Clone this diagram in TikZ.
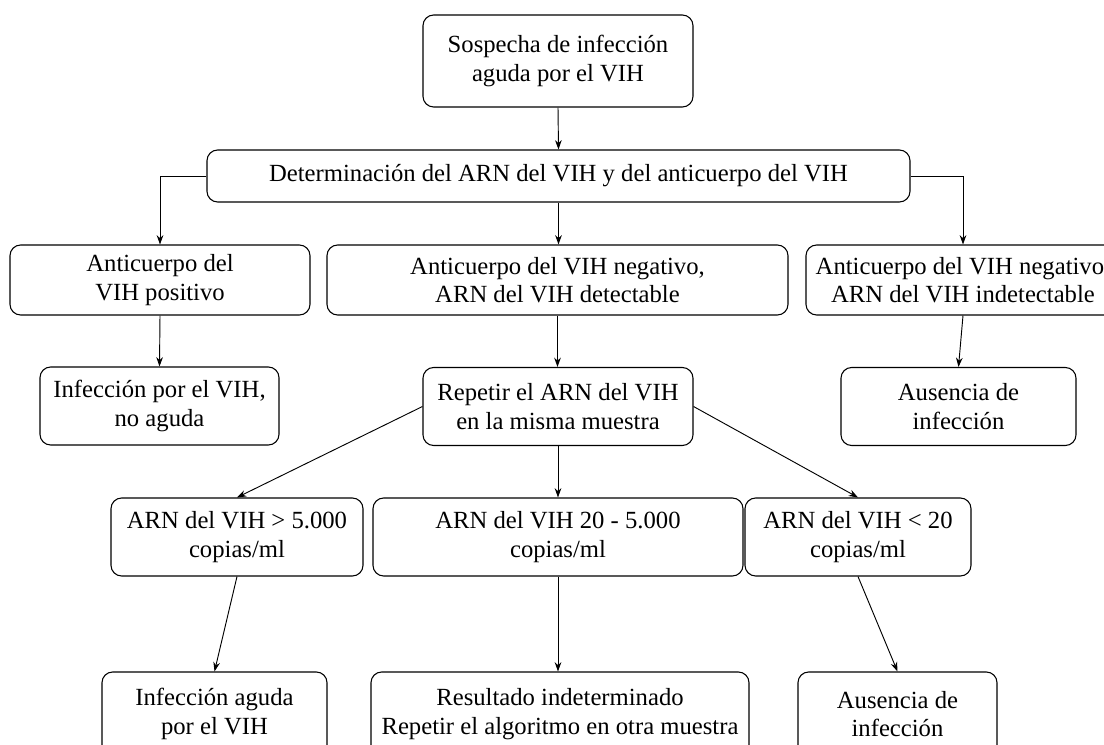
\documentclass[tikz,border=0pt]{standalone}
\usepackage{fontspec}
\setmainfont{Liberation Serif}
\usetikzlibrary{arrows.meta}
\begin{document}
\begin{tikzpicture}[x=0.75pt,y=-0.75pt,
  box/.style={draw, line width=0.8pt, rounded corners=8pt, align=center,
    inner sep=0pt, font=\fontsize{18.5pt}{21.5pt}\selectfont},
  sz/.style 2 args={minimum width=#1*0.75pt, minimum height=#2*0.75pt},
  arr/.style={-{Stealth[length=7pt,width=5pt]}, line width=0.7pt}]
\useasboundingbox (0,0) rectangle (1104,745);
\node[box, sz={270}{92}] (s0) at (558,61) {Sospecha de infección\\aguda por el VIH};
\node[box, sz={703}{52}] (d) at (558.5,176) {Determinación del ARN del VIH y del anticuerpo del VIH};
\node[box, sz={300}{70}] (a1) at (160,280) {Anticuerpo del\\VIH positivo};
\node[box, sz={461}{70}] (a2) at (557.5,280) {Anticuerpo del VIH negativo,\\ARN del VIH detectable};
\node[box, sz={314}{70}] (a3) at (963,280) {Anticuerpo del VIH negativo,\\ARN del VIH indetectable};
\node[box, sz={239}{78}] (b1) at (159.5,406) {Infección por el VIH,\\no aguda};
\node[box, sz={270}{78}] (b2) at (558,406.5) {Repetir el ARN del VIH\\en la misma muestra};
\node[box, sz={235}{78}] (b3) at (958.5,406.5) {Ausencia de\\infección};
\node[box, sz={252}{78}] (c1) at (237,537) {ARN del VIH > 5.000\\copias/ml};
\node[box, sz={370}{78}] (c2) at (558,537) {ARN del VIH 20 - 5.000\\copias/ml};
\node[box, sz={226}{78}] (c3) at (858,537) {ARN del VIH < 20\\copias/ml};
\node[box, sz={225}{84}] (e1) at (214.5,714) {Infección aguda\\por el VIH};
\node[box, sz={378}{84}] (e2) at (560,714) {Resultado indeterminado\\Repetir el algoritmo en otra muestra};
\node[box, sz={199}{84}] (e3) at (897.5,714) {Ausencia de\\infección};
\draw[arr] (s0.south) -- (d.north);
\draw[arr] (d.west) -| (a1.north);
\draw[arr] (d.east) -| (a3.north);
\draw[arr] (d.south) -- (d.south |- a2.north);
\draw[arr] (a1.south) -- (b1.north);
\draw[arr] (a2.south) -- (a2.south |- b2.north);
\draw[arr] (a3.south) -- (b3.north);
\draw[arr] (b2.west) -- (c1.north);
\draw[arr] (b2.east) -- (c3.north);
\draw[arr] (b2.south) -- (c2.north);
\draw[arr] (c1.south) -- (e1.north);
\draw[arr] (c2.south) -- (c2.south |- e2.north);
\draw[arr] (c3.south) -- (e3.north);
\end{tikzpicture}
\end{document}
